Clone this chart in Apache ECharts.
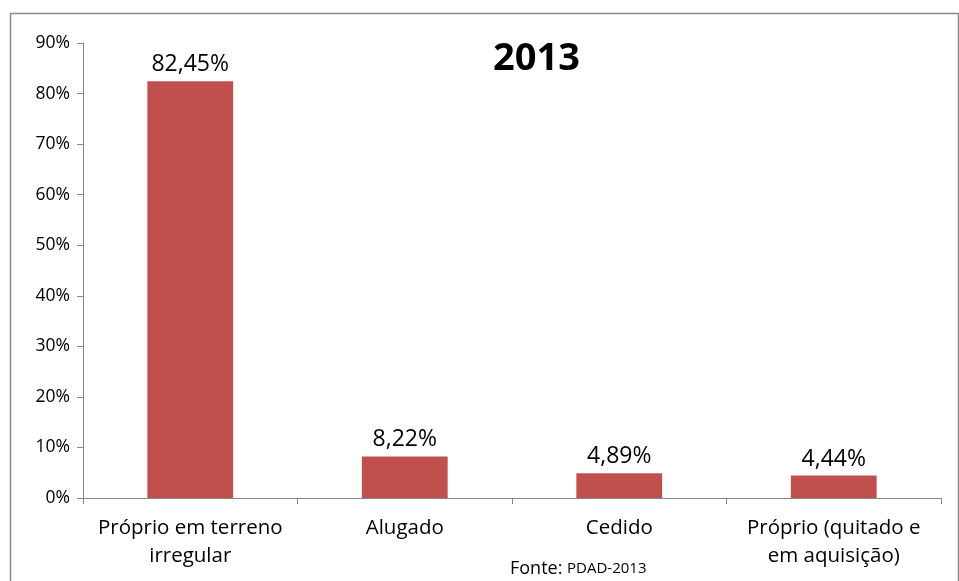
<!DOCTYPE html>
<html><head><meta charset="utf-8">
<script src="https://cdn.jsdelivr.net/npm/echarts@6/dist/echarts.min.js"></script>
<style>html,body{margin:0;padding:0;background:#fff}#c{width:959px;height:581px}</style>
</head><body><div id="c"></div>
<script>
const categories = ['Próprio em terreno\nirregular', 'Alugado', 'Cedido', 'Próprio (quitado e\nem aquisição)'];
const values = [82.45, 8.22, 4.89, 4.44];
const valueLabels = ['82,45%', '8,22%', '4,89%', '4,44%'];
const yTicks = [0, 10, 20, 30, 40, 50, 60, 70, 80, 90];
const titleText = '2013';
const sourceText = 'Fonte: ';
const sourceName = 'PDAD-2013';

const FONT = '"Open Sans", sans-serif';
const chart = echarts.init(document.getElementById('c'), null, {renderer: 'canvas'});
chart.setOption({
  animation: false,
  backgroundColor: '#fff',
  grid: {left: 83, right: 18, top: 43, bottom: 83, containLabel: false},
  graphic: [
    {type: 'rect', shape: {x: 10.5, y: 13.5, width: 948, height: 580}, style: {fill: 'none', stroke: '#8a8a8a', lineWidth: 1.5}, z: -1},
    {type: 'text', left: 493, top: 40, style: {text: titleText, font: 'bold 38px ' + FONT, fill: '#000'}},
    {type: 'text', left: 510, top: 560, style: {rich: {a: {fontSize: 18, fontFamily: FONT, fill: '#000'}, b: {fontSize: 15, fontFamily: FONT, fill: '#000'}}, text: '{a|' + sourceText + '}{b|' + sourceName + '}'}}
  ],
  xAxis: {
    type: 'category', data: categories,
    axisLine: {lineStyle: {color: '#868686', width: 1}},
    axisTick: {show: true, length: 6, lineStyle: {color: '#868686'}},
    axisLabel: {color: '#000', fontSize: 20.5, fontFamily: FONT, margin: 16, lineHeight: 28, interval: 0}
  },
  yAxis: {
    type: 'value', min: 0, max: 90, interval: 10,
    axisLine: {show: true, lineStyle: {color: '#868686'}},
    axisTick: {show: true, length: 6, lineStyle: {color: '#868686'}},
    splitLine: {show: false},
    axisLabel: {color: '#000', fontSize: 17.5, fontFamily: FONT, margin: 13, formatter: v => v + '%'}
  },
  series: [{
    type: 'bar', data: values, barWidth: '40%',
    itemStyle: {color: '#C0504D'},
    label: {show: true, position: 'top', distance: 5, color: '#000', fontSize: 23, fontFamily: FONT,
      formatter: p => valueLabels[p.dataIndex]}
  }]
});
</script></body></html>
